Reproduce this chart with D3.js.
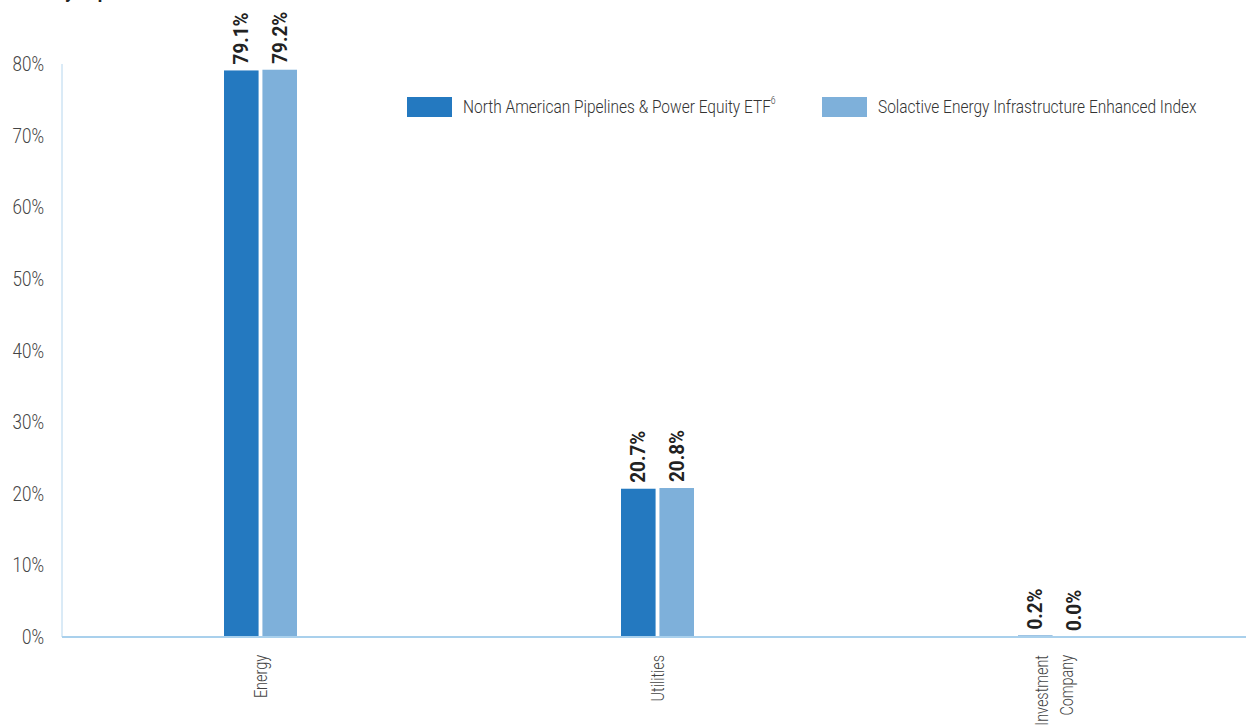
<!DOCTYPE html>
<html>
<head>
<meta charset="utf-8">
<script src="https://cdn.jsdelivr.net/npm/d3@7"></script>
<style>
  body { margin: 0; background: #fff; }
  svg { display: block; }
  text { font-family: "Roboto", "Liberation Sans", sans-serif; }
</style>
</head>
<body>
<div class="canvas"></div>
<script>
const categories = [['Energy'], ['Utilities'], ['Investment', 'Company']];
const seriesNames = ['North American Pipelines & Power Equity ETF', 'Solactive Energy Infrastructure Enhanced Index'];
const etfValues = [79.1, 20.7, 0.2];
const indexValues = [79.2, 20.8, 0.0];
const yTicks = [0, 10, 20, 30, 40, 50, 60, 70, 80];
const colors = ['#2479c0', '#7eb0da'];

const dims = { width: 1246, height: 726 };
const margin = { left: 62, top: 64, bottom: 637 };
// the source font is a condensed face, so squeeze Roboto sideways
const narrow = 0.85;

const svg = d3.select('.canvas')
    .append('svg')
    .attr('width', dims.width)
    .attr('height', dims.height);

// title, cut off at the very top in the source
svg.append('text')
    .attr('transform', `translate(8, -2) scale(${narrow}, 1)`)
    .attr('font-size', 21)
    .attr('font-weight', 'bold')
    .attr('fill', '#222')
    .text('Industry Exposure');

const y = d3.scaleLinear()
    .domain([0, 80])
    .range([margin.bottom, margin.top]);

const x = d3.scaleBand()
    .domain(d3.range(categories.length))
    .range([margin.left, margin.left + 3 * 397]);

const groupWidth = 73;
const xInner = d3.scaleBand()
    .domain([0, 1])
    .range([0, groupWidth])
    .paddingInner(0.1);

// y tick labels
svg.append('g')
    .selectAll('text')
    .data(yTicks)
    .enter()
    .append('text')
    .attr('transform', d => `translate(44, ${y(d)}) scale(${narrow}, 1)`)
    .attr('dy', '0.35em')
    .attr('text-anchor', 'end')
    .attr('font-size', 20)
    .attr('font-weight', 300)
    .attr('fill', '#444')
    .text(d => d + '%');

const rows = categories.map((c, i) => ({ i, vals: [etfValues[i], indexValues[i]] }));

const groups = svg.append('g')
    .selectAll('g')
    .data(rows)
    .enter()
    .append('g')
    .attr('transform', d => `translate(${x(d.i) + x.bandwidth() / 2 - groupWidth / 2}, 0)`);

groups.selectAll('rect')
    .data(d => d.vals.map((v, s) => ({ v, s })))
    .enter()
    .append('rect')
    .attr('x', d => xInner(d.s))
    .attr('width', xInner.bandwidth())
    .attr('y', d => y(d.v))
    .attr('height', d => y(0) - y(d.v))
    .attr('fill', d => colors[d.s]);

// value labels
groups.selectAll('text.val')
    .data(d => d.vals.map((v, s) => ({ v, s })))
    .enter()
    .append('text')
    .attr('class', 'val')
    .attr('transform', d => `translate(${xInner(d.s) + xInner.bandwidth() / 2 + 7}, ${y(d.v) - 6}) rotate(-90) scale(0.9, 1)`)
    .attr('font-size', 21)
    .attr('font-weight', 'bold')
    .attr('fill', '#222')
    .text(d => d.v.toFixed(1) + '%');

// axis lines (drawn over the bars)
svg.append('line')
    .attr('x1', margin.left).attr('x2', margin.left)
    .attr('y1', y(80)).attr('y2', y(0))
    .attr('stroke', '#b5d6ee').attr('stroke-width', 1);

svg.append('line')
    .attr('x1', margin.left).attr('x2', dims.width)
    .attr('y1', y(0)).attr('y2', y(0))
    .attr('stroke', '#a9d0ec').attr('stroke-width', 2);

// category labels
const catLabels = svg.append('g')
    .selectAll('text')
    .data(categories)
    .enter()
    .append('text')
    .attr('transform', (d, i) => `translate(${x(i) + x.bandwidth() / 2}, ${y(0) + 18}) rotate(-90) scale(0.8, 1)`)
    .attr('text-anchor', 'end')
    .attr('font-size', 18)
    .attr('font-weight', 300)
    .attr('fill', '#444');

catLabels.selectAll('tspan')
    .data(d => d)
    .enter()
    .append('tspan')
    .attr('x', 0)
    .attr('y', (d, i, n) => (i - (n.length - 1) / 2) * 25 + 6)
    .text(d => d);

// legend
const legend = svg.append('g');
const legendX = [407, 822];
seriesNames.forEach((name, i) => {
    legend.append('rect')
        .attr('x', legendX[i])
        .attr('y', 97)
        .attr('width', 45)
        .attr('height', 20)
        .attr('fill', colors[i]);
    const t = legend.append('text')
        .attr('transform', `translate(${legendX[i] + 56}, 113) scale(0.86, 1)`)
        .attr('font-size', 18)
        .attr('font-weight', 300)
        .attr('fill', '#333')
        .text(name);
    if (i === 0) {
        t.append('tspan')
            .attr('font-size', 10)
            .attr('dy', -9)
            .text('6');
    }
});
</script>
</body>
</html>
